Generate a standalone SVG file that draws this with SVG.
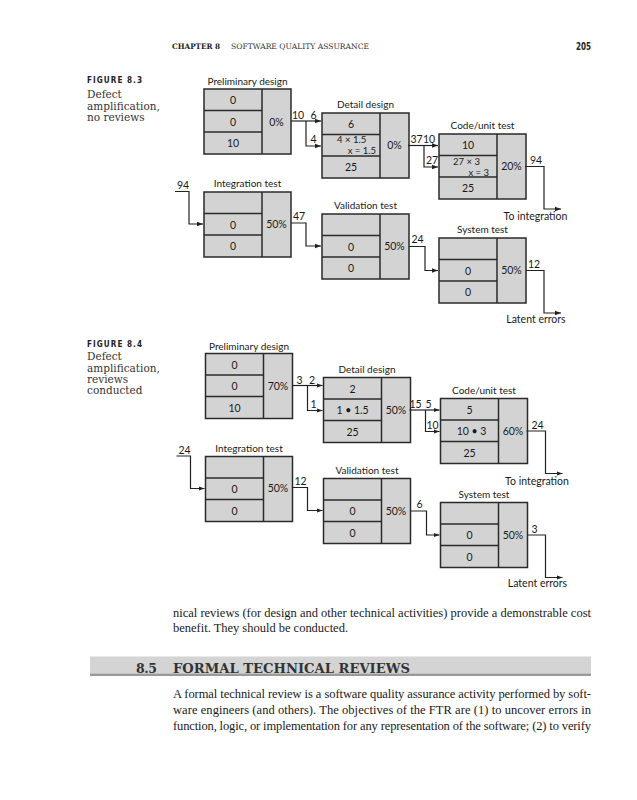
<svg xmlns="http://www.w3.org/2000/svg" width="637" height="800" viewBox="0 0 637 800">
<defs>
<marker id="ah" markerUnits="userSpaceOnUse" markerWidth="8" markerHeight="6" refX="6" refY="3" orient="auto">
<path d="M0,0.8 L6,3 L0,5.2 Z" fill="#222"/>
</marker>
<g id="box">
<rect x="0" y="0" width="87" height="65" class="bx"/>
<line x1="58" y1="0" x2="58" y2="65" class="bl"/>
<line x1="0" y1="21.5" x2="58" y2="21.5" class="bl"/>
<line x1="0" y1="43" x2="58" y2="43" class="bl"/>
</g>
</defs>
<style>
.bx{fill:#d3d3d3;stroke:#2a2a2a;stroke-width:1.5}
.bl{stroke:#2a2a2a;stroke-width:1.5}
.t{font-family:Lato,"Liberation Sans",sans-serif;font-size:10.5px;fill:#1a1a1a;text-anchor:middle}
.s{font-family:Lato,"Liberation Sans",sans-serif;font-size:9.5px;fill:#1a1a1a}
.ttl{font-family:Lato,"Liberation Sans",sans-serif;font-size:10px;fill:#1a1a1a;text-anchor:middle}
.c{fill:none;stroke:#222;stroke-width:1.2}
.ca{fill:none;stroke:#222;stroke-width:1.2;marker-end:url(#ah)}
.fig{font-family:"DejaVu Sans",sans-serif;font-weight:bold;font-size:8.5px;fill:#222;letter-spacing:1.2px}
.cap{font-family:"DejaVu Serif",serif;font-size:10.5px;fill:#333}
.body{font-family:"Liberation Serif",serif;font-size:12.5px;fill:#1a1a1a}
</style>
<rect width="637" height="800" fill="#fff"/>
<!-- header -->
<text x="172" y="49" font-family="DejaVu Serif,serif" font-weight="bold" font-size="7.5" fill="#222" textLength="48" lengthAdjust="spacingAndGlyphs">CHAPTER 8</text>
<text x="231" y="49" font-family="DejaVu Serif,serif" font-size="7.5" fill="#333" textLength="138" lengthAdjust="spacingAndGlyphs">SOFTWARE QUALITY ASSURANCE</text>
<text x="576" y="50" font-family="DejaVu Sans,sans-serif" font-weight="bold" font-size="10" fill="#222" textLength="15" lengthAdjust="spacingAndGlyphs">205</text>
<!-- figure 8.3 caption -->
<text class="fig" x="87" y="83" textLength="56" lengthAdjust="spacingAndGlyphs">FIGURE 8.3</text>
<text class="cap" x="87" y="98">Defect</text>
<text class="cap" x="87" y="109.5">amplification,</text>
<text class="cap" x="87" y="121">no reviews</text>
<!-- figure 8.3 -->
<g id="fig83">
<g id="n83-pd"><use href="#box" x="204" y="89"/>
<text class="ttl" x="247.5" y="85">Preliminary design</text>
<text class="t" x="233" y="104">0</text><text class="t" x="233" y="125.5">0</text><text class="t" x="233" y="147">10</text>
<text class="t" x="276.5" y="125.5">0%</text></g>
<g id="n83-dd"><use href="#box" x="322" y="113"/>
<text class="ttl" x="365.5" y="108">Detail design</text>
<text class="t" x="351" y="128">6</text>
<text class="s" x="337" y="142.5">4 × 1.5</text><text class="s" x="376" y="153.5" text-anchor="end">x = 1.5</text>
<text class="t" x="351" y="171">25</text>
<text class="t" x="394.5" y="149">0%</text></g>
<g id="n83-cu"><use href="#box" x="439" y="134"/>
<text class="ttl" x="482.5" y="129">Code/unit test</text>
<text class="t" x="468" y="149">10</text>
<text class="s" x="453" y="164.5">27 × 3</text><text class="s" x="489" y="175.5" text-anchor="end">x = 3</text>
<text class="t" x="468" y="192">25</text>
<text class="t" x="511.5" y="170">20%</text></g>
<g id="n83-it"><use href="#box" x="204" y="192"/>
<text class="ttl" x="247.5" y="187">Integration test</text>
<text class="t" x="233" y="228.5">0</text><text class="t" x="233" y="250">0</text>
<text class="t" x="276.5" y="227.5">50%</text></g>
<g id="n83-vt"><use href="#box" x="322" y="214"/>
<text class="ttl" x="365.5" y="209">Validation test</text>
<text class="t" x="351" y="250.5">0</text><text class="t" x="351" y="272">0</text>
<text class="t" x="394.5" y="250">50%</text></g>
<g id="n83-st"><use href="#box" x="439" y="238"/>
<text class="ttl" x="482.5" y="233">System test</text>
<text class="t" x="468" y="274.5">0</text><text class="t" x="468" y="296">0</text>
<text class="t" x="511.5" y="274">50%</text></g>
<g id="c83">
<path class="ca" d="M291,121 H321"/>
<path class="ca" d="M306,121 V146 H321"/>
<path class="ca" d="M408,145.5 H438"/>
<path class="ca" d="M424,145.5 V167 H438"/>
<path class="ca" d="M525,166.5 H544 V209 H561"/>
<path class="ca" d="M175,191.5 H189 V224 H203"/>
<path class="ca" d="M291,223 H306 V246 H321"/>
<path class="ca" d="M409,246.5 H425 V270.5 H438"/>
<path class="ca" d="M526,270.5 H544 V313 H561"/>
<text class="t" x="298" y="119">10</text><text class="t" x="313.5" y="119">6</text><text class="t" x="313.5" y="143">4</text>
<text class="t" x="416.5" y="143">37</text><text class="t" x="429" y="143">10</text><text class="t" x="432" y="164">27</text>
<text class="t" x="536" y="164">94</text>
<text class="t" x="535.5" y="220">To integration</text>
<text class="t" x="183" y="189">94</text>
<text class="t" x="299" y="220">47</text>
<text class="t" x="417.5" y="243">24</text>
<text class="t" x="534" y="268">12</text>
<text class="t" x="536" y="322.5">Latent errors</text>
</g>
</g>
<!-- figure 8.4 caption -->
<text class="fig" x="87" y="347" textLength="56" lengthAdjust="spacingAndGlyphs">FIGURE 8.4</text>
<text class="cap" x="87" y="360">Defect</text>
<text class="cap" x="87" y="371.5">amplification,</text>
<text class="cap" x="87" y="382.5">reviews</text>
<text class="cap" x="87" y="394">conducted</text>
<!-- figure 8.4 -->
<g id="fig84" transform="translate(1.5,264.5)">
<g id="n84-pd"><use href="#box" x="204" y="89"/>
<text class="ttl" x="247.5" y="85">Preliminary design</text>
<text class="t" x="233" y="104">0</text><text class="t" x="233" y="125.5">0</text><text class="t" x="233" y="147">10</text>
<text class="t" x="276.5" y="125.5">70%</text></g>
<g id="n84-dd"><use href="#box" x="322" y="113"/>
<text class="ttl" x="365.5" y="108">Detail design</text>
<text class="t" x="351" y="128">2</text>
<text class="t" x="351" y="149.5">1 • 1.5</text>
<text class="t" x="351" y="171">25</text>
<text class="t" x="394.5" y="149">50%</text></g>
<g id="n84-cu"><use href="#box" x="439" y="134"/>
<text class="ttl" x="482.5" y="129">Code/unit test</text>
<text class="t" x="468" y="149">5</text>
<text class="t" x="470" y="170.5">10 • 3</text>
<text class="t" x="468" y="192">25</text>
<text class="t" x="511.5" y="170">60%</text></g>
<g id="n84-it"><use href="#box" x="204" y="192"/>
<text class="ttl" x="247.5" y="187">Integration test</text>
<text class="t" x="233" y="228.5">0</text><text class="t" x="233" y="250">0</text>
<text class="t" x="276.5" y="227.5">50%</text></g>
<g id="n84-vt"><use href="#box" x="322" y="214"/>
<text class="ttl" x="365.5" y="209">Validation test</text>
<text class="t" x="351" y="250.5">0</text><text class="t" x="351" y="272">0</text>
<text class="t" x="394.5" y="250">50%</text></g>
<g id="n84-st"><use href="#box" x="439" y="238"/>
<text class="ttl" x="482.5" y="233">System test</text>
<text class="t" x="468" y="274.5">0</text><text class="t" x="468" y="296">0</text>
<text class="t" x="511.5" y="274">50%</text></g>
<g id="c84">
<path class="ca" d="M291,121 H321"/>
<path class="ca" d="M306,121 V146 H321"/>
<path class="ca" d="M408,145.5 H438"/>
<path class="ca" d="M424,145.5 V167 H438"/>
<path class="ca" d="M525,166.5 H544 V209 H561"/>
<path class="ca" d="M175,191.5 H189 V224 H203"/>
<path class="ca" d="M291,223 H306 V246 H321"/>
<path class="ca" d="M409,246.5 H425 V270.5 H438"/>
<path class="ca" d="M526,270.5 H544 V313 H561"/>
<text class="t" x="298" y="119">3</text><text class="t" x="310.5" y="119">2</text><text class="t" x="312" y="143">1</text>
<text class="t" x="414" y="143">15</text><text class="t" x="427" y="143">5</text><text class="t" x="431" y="164">10</text>
<text class="t" x="536" y="164">24</text>
<text class="t" x="535.5" y="220">To integration</text>
<text class="t" x="183" y="189">24</text>
<text class="t" x="299" y="220">12</text>
<text class="t" x="418" y="243">6</text>
<text class="t" x="533" y="268">3</text>
<text class="t" x="536" y="322.5">Latent errors</text>
</g>
</g>
<!-- body text -->
<text class="body" x="173" y="616.5" textLength="418" lengthAdjust="spacing">nical reviews (for design and other technical activities) provide a demonstrable cost</text>
<text class="body" x="173" y="632" textLength="175" lengthAdjust="spacing">benefit. They should be conducted.</text>
<rect x="90" y="656.5" width="501" height="17" fill="#d4d4d4"/>
<rect x="90" y="673.5" width="501" height="2.5" fill="#9a9a9a"/>
<g font-family="DejaVu Serif,serif" font-weight="bold" font-size="12.5" fill="#333">
<text x="136" y="672.5" textLength="21" lengthAdjust="spacing">8.5</text>
<text x="173" y="672.5" textLength="237" lengthAdjust="spacingAndGlyphs">FORMAL TECHNICAL REVIEWS</text>
</g>
<text class="body" x="173" y="697.5" textLength="418" lengthAdjust="spacing">A formal technical review is a software quality assurance activity performed by soft-</text>
<text class="body" x="173" y="713.5" textLength="418" lengthAdjust="spacing">ware engineers (and others). The objectives of the FTR are (1) to uncover errors in</text>
<text class="body" x="173" y="729.5" textLength="418" lengthAdjust="spacing">function, logic, or implementation for any representation of the software; (2) to verify</text>
</svg>
